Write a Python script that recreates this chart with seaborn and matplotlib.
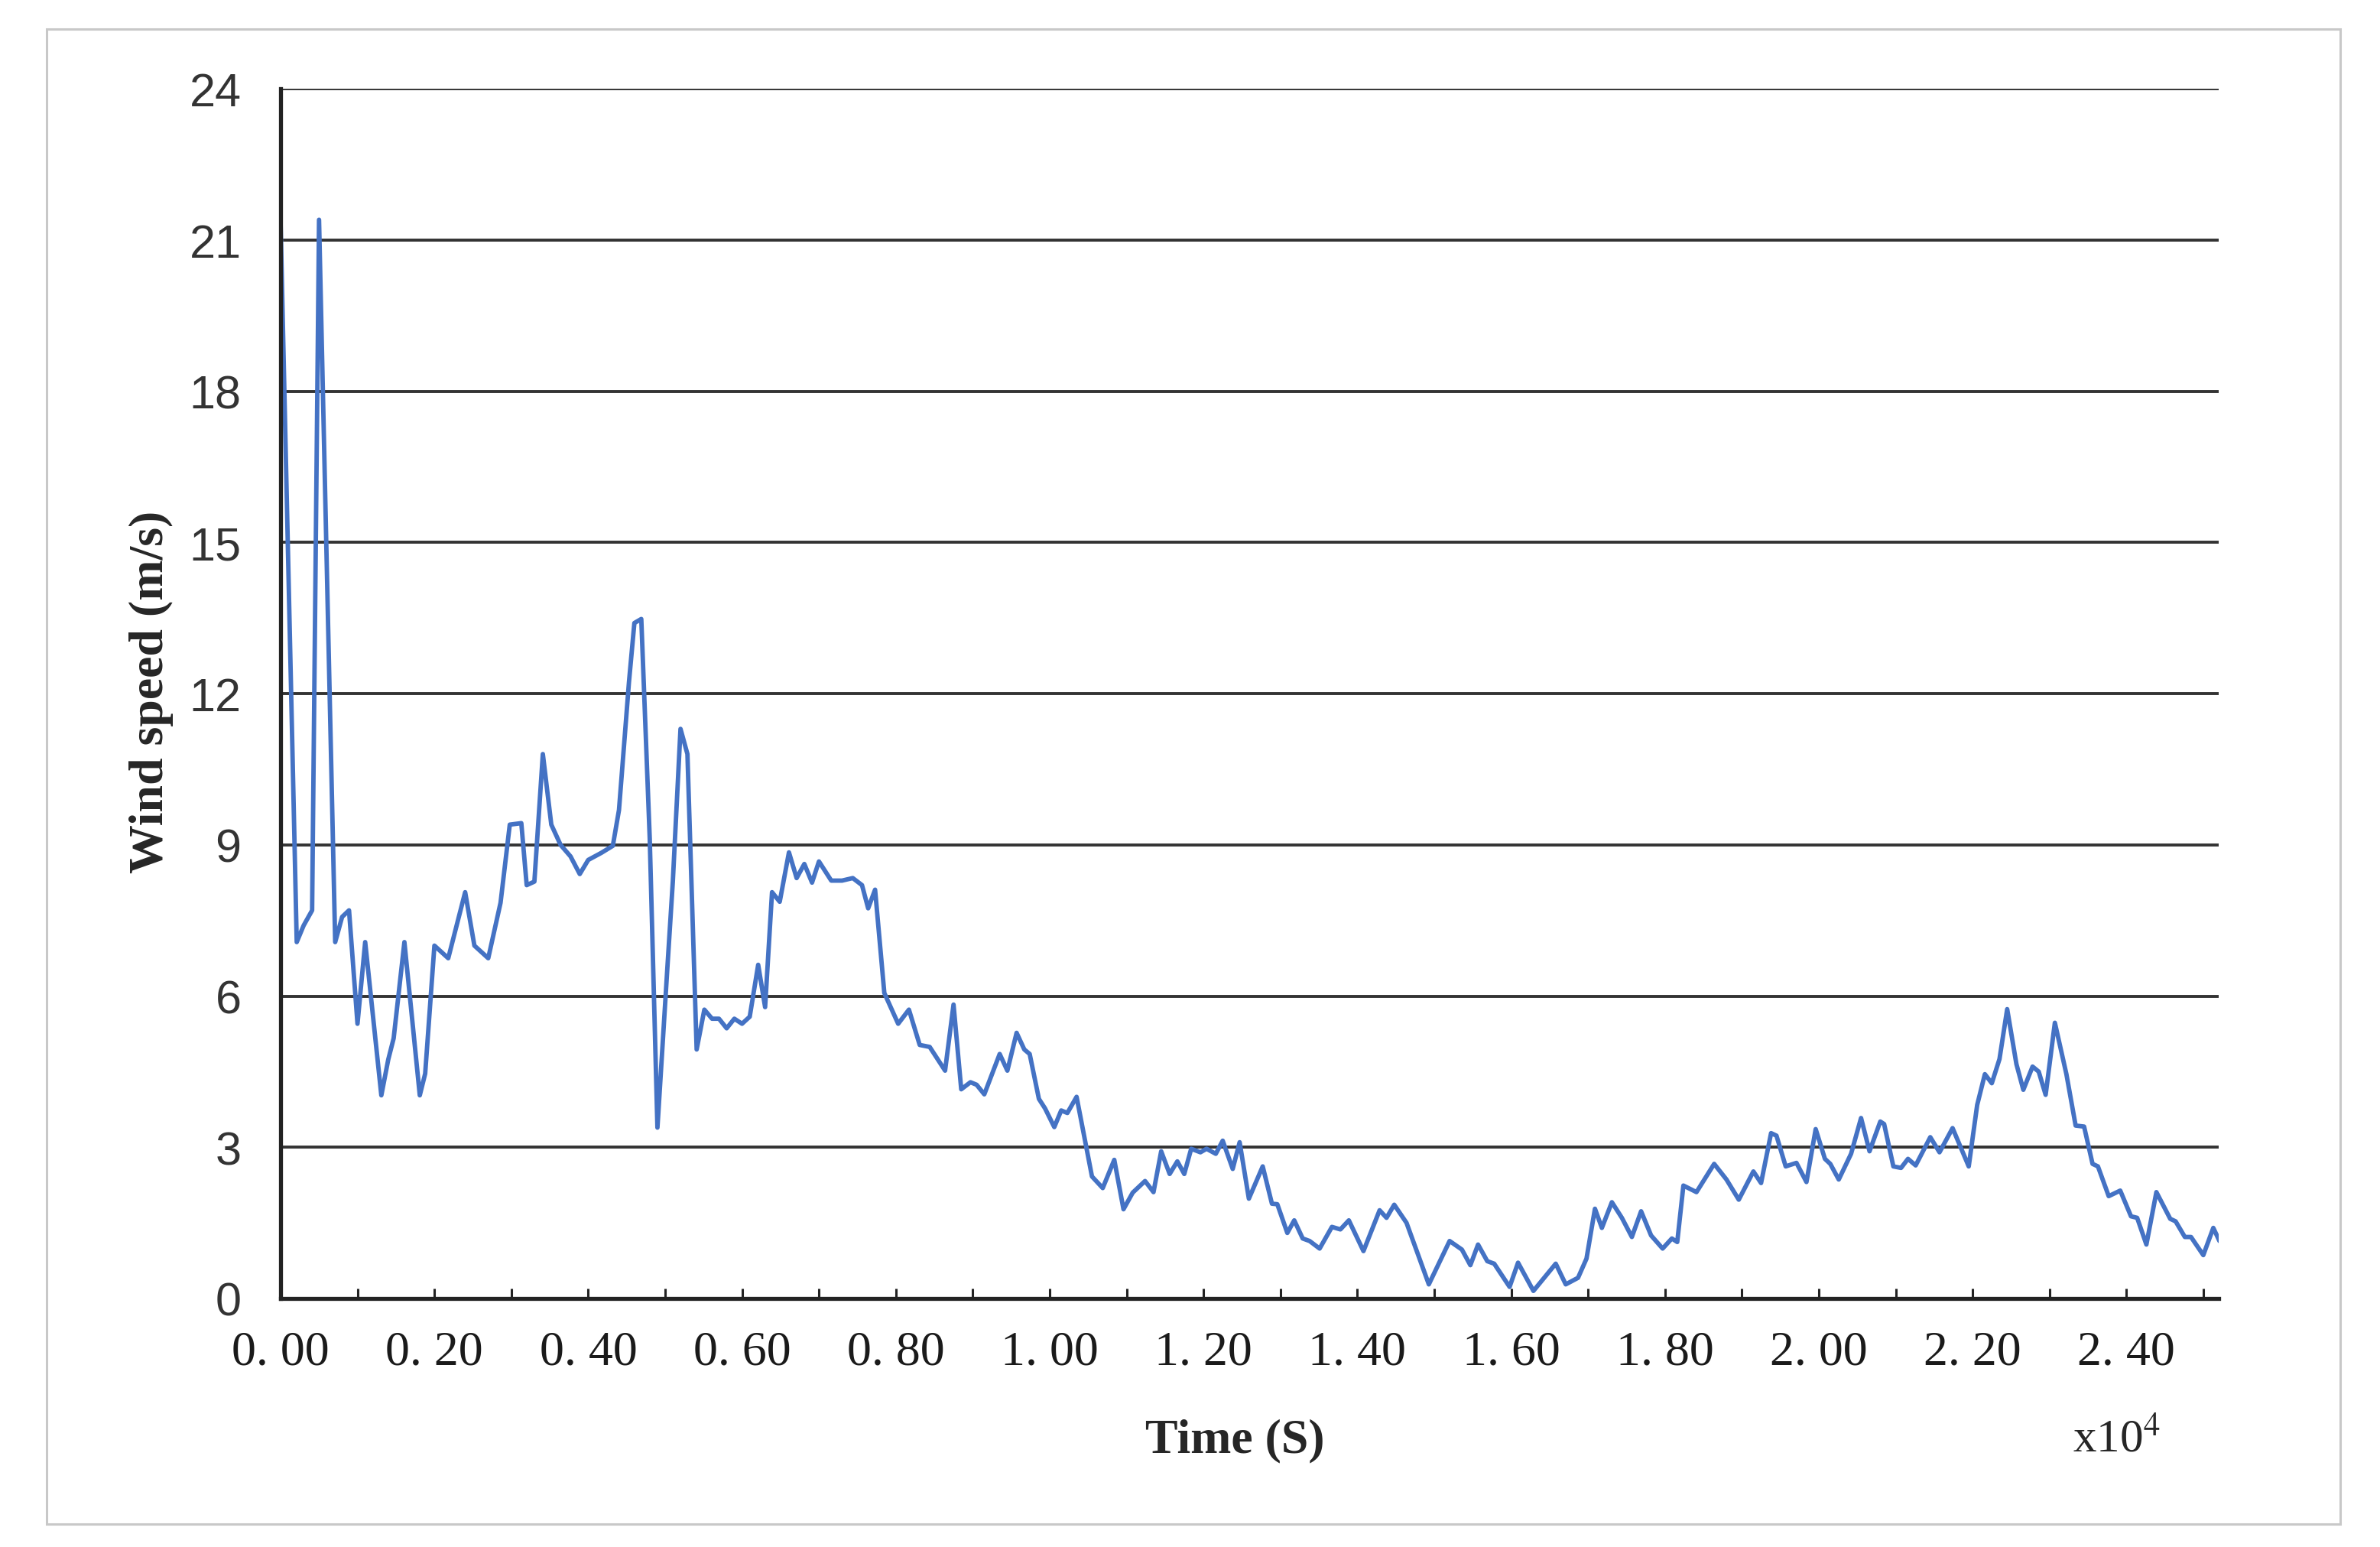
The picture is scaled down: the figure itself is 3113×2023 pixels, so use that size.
import numpy as np
import pandas as pd
import matplotlib
matplotlib.use("Agg")
import matplotlib.pyplot as plt
import seaborn as sns
from matplotlib.ticker import FixedLocator, MultipleLocator

# ── data (time in units of 1e4 s, wind speed in m/s) ───────────────
time_e4 = [
    0.000, 0.021, 0.030, 0.041, 0.050, 0.071, 0.080, 0.089, 0.100, 0.110,
    0.131, 0.140, 0.147, 0.161, 0.181, 0.188, 0.200, 0.218, 0.240, 0.252,
    0.270, 0.286, 0.298, 0.313, 0.320, 0.330, 0.341, 0.352, 0.364, 0.377,
    0.389, 0.400, 0.417, 0.432, 0.440, 0.453, 0.460, 0.469, 0.480, 0.490,
    0.503, 0.510, 0.520, 0.529, 0.541, 0.551, 0.561, 0.570, 0.580, 0.590,
    0.600, 0.610, 0.621, 0.630, 0.639, 0.649, 0.661, 0.671, 0.681, 0.691,
    0.700, 0.716, 0.730, 0.744, 0.756, 0.764, 0.773, 0.785, 0.803, 0.817,
    0.831, 0.844, 0.864, 0.875, 0.885, 0.897, 0.905, 0.915, 0.935, 0.945,
    0.957, 0.967, 0.974, 0.986, 0.994, 1.006, 1.015, 1.023, 1.035, 1.055,
    1.069, 1.084, 1.096, 1.108, 1.124, 1.135, 1.145, 1.156, 1.166, 1.175,
    1.184, 1.196, 1.204, 1.216, 1.225, 1.238, 1.247, 1.259, 1.277, 1.289,
    1.296, 1.309, 1.318, 1.329, 1.338, 1.351, 1.367, 1.378, 1.389, 1.408,
    1.429, 1.438, 1.448, 1.464, 1.493, 1.520, 1.536, 1.547, 1.557, 1.569,
    1.578, 1.598, 1.609, 1.629, 1.644, 1.658, 1.671, 1.687, 1.698, 1.709,
    1.718, 1.731, 1.744, 1.757, 1.769, 1.782, 1.797, 1.809, 1.816, 1.824,
    1.841, 1.864, 1.880, 1.896, 1.915, 1.925, 1.938, 1.945, 1.957, 1.971,
    1.984, 1.996, 2.008, 2.015, 2.026, 2.042, 2.055, 2.066, 2.080, 2.085,
    2.097, 2.107, 2.116, 2.126, 2.145, 2.157, 2.174, 2.195, 2.206, 2.216,
    2.225, 2.235, 2.245, 2.257, 2.266, 2.278, 2.286, 2.295, 2.307, 2.322,
    2.334, 2.345, 2.356, 2.363, 2.377, 2.392, 2.406, 2.414, 2.426, 2.439,
    2.457, 2.464, 2.476, 2.484, 2.500, 2.513, 2.521,
]
wind_speed = [
    21.35, 7.07, 7.40, 7.70, 21.40, 7.07, 7.57, 7.70, 5.45, 7.07,
    4.03, 4.74, 5.16, 7.07, 4.03, 4.46, 7.00, 6.75, 8.06, 7.00,
    6.75, 7.85, 9.40, 9.43, 8.20, 8.27, 10.80, 9.40, 9.00, 8.77,
    8.42, 8.70, 8.84, 8.98, 9.69, 12.23, 13.40, 13.48, 9.12, 3.39,
    6.58, 8.27, 11.30, 10.80, 4.94, 5.73, 5.55, 5.55, 5.36, 5.55,
    5.45, 5.59, 6.62, 5.78, 8.06, 7.87, 8.85, 8.34, 8.62, 8.25,
    8.67, 8.29, 8.29, 8.34, 8.20, 7.74, 8.11, 6.06, 5.45, 5.73,
    5.03, 4.99, 4.52, 5.83, 4.15, 4.29, 4.24, 4.05, 4.85, 4.52,
    5.27, 4.94, 4.85, 3.96, 3.77, 3.40, 3.73, 3.68, 4.00, 2.42,
    2.19, 2.75, 1.77, 2.10, 2.33, 2.11, 2.92, 2.47, 2.72, 2.47,
    2.97, 2.90, 2.97, 2.87, 3.13, 2.57, 3.10, 1.98, 2.62, 1.88,
    1.87, 1.30, 1.55, 1.19, 1.14, 0.99, 1.42, 1.37, 1.55, 0.94,
    1.75, 1.60, 1.86, 1.50, 0.28, 1.14, 0.97, 0.66, 1.07, 0.74,
    0.69, 0.23, 0.71, 0.15, 0.43, 0.69, 0.28, 0.41, 0.79, 1.78,
    1.40, 1.91, 1.60, 1.22, 1.73, 1.25, 0.99, 1.19, 1.12, 2.24,
    2.11, 2.67, 2.36, 1.96, 2.52, 2.29, 3.28, 3.23, 2.62, 2.69,
    2.31, 3.36, 2.77, 2.67, 2.36, 2.87, 3.58, 2.92, 3.51, 3.46,
    2.62, 2.59, 2.77, 2.64, 3.20, 2.90, 3.38, 2.62, 3.84, 4.45,
    4.27, 4.75, 5.74, 4.65, 4.14, 4.60, 4.50, 4.04, 5.47, 4.45,
    3.43, 3.41, 2.67, 2.62, 2.03, 2.14, 1.63, 1.60, 1.07, 2.11,
    1.58, 1.53, 1.22, 1.22, 0.86, 1.40, 1.14,
]

x_ticks = [0.0, 0.2, 0.4, 0.6, 0.8, 1.0, 1.2, 1.4, 1.6, 1.8, 2.0, 2.2, 2.4]
x_ticklabels = ["0. 00", "0. 20", "0. 40", "0. 60", "0. 80", "1. 00", "1. 20",
                "1. 40", "1. 60", "1. 80", "2. 00", "2. 20", "2. 40"]
y_ticks = [0, 3, 6, 9, 12, 15, 18, 21, 24]

LINE = "#4472C4"; GRID = "#333333"; FRAME = "#C8C8C8"

sns.set_style("white")
plt.rcParams["mathtext.fontset"] = "stix"

df = pd.DataFrame({"t": time_e4, "v": wind_speed})

fig = plt.figure(figsize=(31.13, 20.24), dpi=100, facecolor="white")
ax = fig.add_axes([367 / 3113, 1 - 1699 / 2024, (2902 - 367) / 3113, (1699 - 117) / 2024])

sns.lineplot(data=df, x="t", y="v", ax=ax, color=LINE, linewidth=4.2,
             estimator=None, sort=False, zorder=3)
ax.lines[0].set_solid_joinstyle("round")
ax.lines[0].set_solid_capstyle("round")

ax.set_xlim(0, 2.52)
ax.set_ylim(0, 24)
ax.set_xlabel(""); ax.set_ylabel("")

# horizontal grid like the original spreadsheet chart
ax.set_yticks(y_ticks)
ax.yaxis.grid(True, color=GRID, linewidth=2.8)
ax.xaxis.grid(False)
ax.set_axisbelow(True)

ax.xaxis.set_major_locator(FixedLocator(x_ticks))
ax.xaxis.set_minor_locator(MultipleLocator(0.1))
ax.set_xticklabels(x_ticklabels, fontfamily="Liberation Serif", fontsize=46, color="#1a1a1a")
ax.set_yticklabels([str(v) for v in y_ticks], fontfamily="Liberation Sans", fontsize=44,
                   color="#333333")
ax.tick_params(axis="x", which="both", direction="in", length=9.5, width=2.2,
               color="#222222", pad=30, bottom=True)
ax.tick_params(axis="y", length=0, pad=37)

for s in ["top", "right"]:
    ax.spines[s].set_visible(False)
for s in ["left", "bottom"]:
    ax.spines[s].set_color("#222222")
    ax.spines[s].set_linewidth(3.8)
    ax.spines[s].set_zorder(4)

# axis titles
fig.text(0.0635, 1 - 905 / 2024, "Wind speed (m/s)", rotation=90, ha="center", va="center",
         fontfamily="Liberation Serif", fontweight="bold", fontsize=46)
fig.text(1615 / 3113, 1 - 1899 / 2024, "Time (S)", ha="center", va="baseline",
         fontfamily="Liberation Serif", fontweight="bold", fontsize=46)
fig.text(2768 / 3113, 1 - 1899 / 2024, r"x10$^{4}$", ha="center", va="baseline",
         fontfamily="Liberation Serif", fontsize=44)

# light outer frame
frame = plt.Rectangle((61 / 3113, 1 - 1994 / 2024), 3000 / 3113, 1955 / 2024,
                      transform=fig.transFigure, fill=False, edgecolor=FRAME, linewidth=2.2)
fig.add_artist(frame)

fig.savefig("out.png", dpi=100, facecolor="white")
plt.close(fig)
